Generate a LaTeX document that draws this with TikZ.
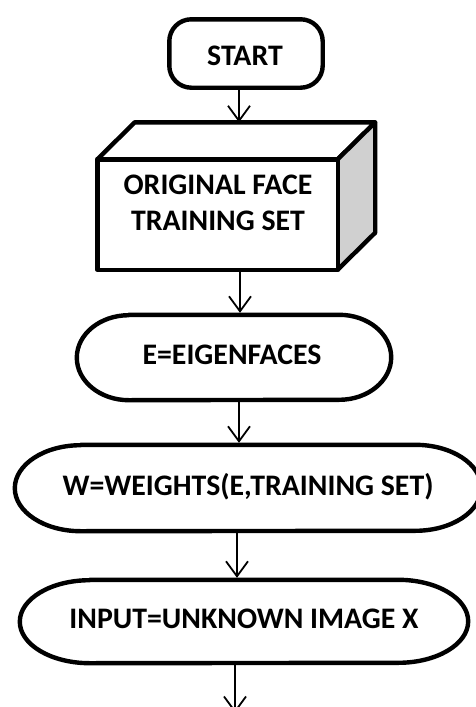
\documentclass[tikz,border=0pt]{standalone}
\usepackage{fontspec}
\setmainfont{Carlito}
\usetikzlibrary{arrows.meta,calc}
\newcommand\stadiumpath[3]{%
  \draw[box] ([xshift=#2]#1.north west) -- ([xshift=-#2]#1.north east)
    arc[start angle=90,end angle=-90,x radius=#2,y radius=#3]
    -- ([xshift=#2]#1.south west)
    arc[start angle=270,end angle=90,x radius=#2,y radius=#3] -- cycle;}
\begin{document}
\begin{tikzpicture}[x=1pt,y=1pt,
  box/.style={line width=4.4pt, line join=round},
  lbl/.style={font=\bfseries\fontsize{29.8}{35}\selectfont, anchor=base, inner sep=0pt},
  holder/.style={draw=none, inner sep=0pt},
  arr/.style={line width=1.8pt, -{Straight Barb[length=15pt,width=22pt,line width=1.8pt]}}]
\useasboundingbox (0,0) rectangle (476,-707);
\clip (0,0) rectangle (476,-707);
\fill[white] (0,0) rectangle (476,-707);

% START
\node[holder, minimum width=153pt, minimum height=68pt] (start) at (246,-53.5) {};
\draw[box, rounded corners=22pt] (start.north west) rectangle (start.south east);
\node[lbl] (starttxt) at (245,-65) {START};

% cube
\node[holder, minimum width=240pt, minimum height=110pt] (cube) at (217.5,-214.5) {};
\coordinate (cubetop) at ([yshift=37pt]cube.north);
\draw[box, fill=white] (cube.north west) -- ([shift={(37.5,37)}]cube.north west)
  -- ([shift={(37.5,37)}]cube.north east) -- (cube.north east) -- cycle;
\draw[box, fill={rgb,255:red,208;green,208;blue,208}] (cube.north east) -- ([shift={(37.5,37)}]cube.north east)
  -- ([shift={(37.5,37)}]cube.south east) -- (cube.south east) -- cycle;
\draw[box, fill=white] (cube.north west) rectangle (cube.south east);
\node[lbl] (cubetxt1) at (218,-194) {ORIGINAL FACE};
\node[lbl] (cubetxt2) at (218,-230) {TRAINING SET};

% E
\node[holder, minimum width=314pt, minimum height=85pt] (eig) at (234,-357.5) {};
\stadiumpath{eig}{52pt}{42.5pt}
\node[lbl] (eigtxt) at (232,-364) {E=EIGENFACES};

% W
\node[holder, minimum width=466pt, minimum height=86pt] (wts) at (248,-488) {};
\stadiumpath{wts}{66pt}{43pt}
\node[lbl] (wtstxt) at (248,-495) {W=WEIGHTS(E,TRAINING SET)};

% INPUT
\node[holder, minimum width=448pt, minimum height=83pt] (inp) at (244,-621.5) {};
\stadiumpath{inp}{70pt}{41.5pt}
\node[lbl] (inptxt) at (244,-628) {INPUT=UNKNOWN IMAGE X};

\coordinate (out) at (235,-713);

% arrows
\draw[arr] (start.south -| 239,0) -- (cubetop -| 239,0);
\draw[arr] (cube.south -| 240,0) -- ([yshift=2pt]eig.north -| 240,0);
\draw[arr] (eig.south -| 239,0) -- ([yshift=2pt]wts.north -| 239,0);
\draw[arr] (wts.south -| 237,0) -- ([yshift=2pt]inp.north -| 237,0);
\draw[arr] (inp.south -| 235,0) -- (out);
\end{tikzpicture}
\end{document}
